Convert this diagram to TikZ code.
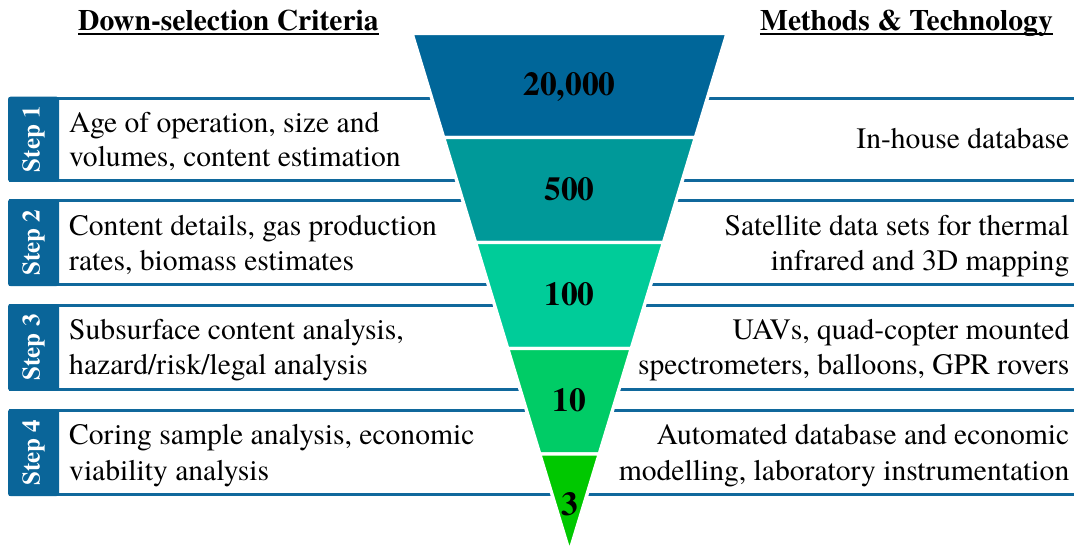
\documentclass[tikz,border=0pt]{standalone}
\usepackage{fontspec}
\setmainfont{TeX Gyre Termes}
\definecolor{tabblue}{RGB}{10,101,153}
\definecolor{lineblue}{RGB}{16,104,156}
\definecolor{fA}{RGB}{0,102,153}
\definecolor{fB}{RGB}{0,153,153}
\definecolor{fC}{RGB}{0,204,153}
\definecolor{fD}{RGB}{0,204,102}
\definecolor{fE}{RGB}{0,200,0}
\begin{document}
\begin{tikzpicture}[x=1pt,y=-1pt,
  txt/.style={inner sep=0pt,font=\fontsize{29.6}{34}\selectfont},
  hdr/.style={inner sep=0pt,font=\fontsize{29.6}{34}\selectfont\bfseries},
  num/.style={inner sep=0pt,font=\fontsize{33.5}{38}\selectfont\bfseries},
  steplbl/.style={inner sep=0pt,rotate=90,text=white,font=\fontsize{25}{28}\selectfont\bfseries},
  tabbox/.style={fill=tabblue,rounded corners=2.5pt},
  bandline/.style={draw=lineblue,line width=3pt},
  seg/.style={draw=white,line width=3.4pt,line join=round}]
\useasboundingbox (0,0) rectangle (1074,547);

% headers
\node[hdr,anchor=base west] (h1) at (78,30) {Down-selection Criteria};
\node[hdr,anchor=base east] (h2) at (1053,30) {Methods \& Technology};
\draw[line width=2pt] ([yshift=-4.3pt]h1.base west) -- ([yshift=-4.3pt]h1.base east);
\draw[line width=2pt] ([yshift=-4.3pt]h2.base west) -- ([yshift=-4.3pt]h2.base east);

% band lines
\foreach \t/\b in {96.7/181.7, 199.3/286, 304/390.7, 409.3/496}{
  \draw[bandline] (9,\t+1.5) -- (1074,\t+1.5);
  \draw[bandline] (9,\b-1.5) -- (1074,\b-1.5);
}

% tabs
\node[tabbox,inner sep=0pt,minimum width=51pt,minimum height=85pt] (t1) at (33.5,139.2) {};
\node[tabbox,inner sep=0pt,minimum width=51pt,minimum height=86.7pt] (t2) at (33.5,242.65) {};
\node[tabbox,inner sep=0pt,minimum width=51pt,minimum height=86.7pt] (t3) at (33.5,347.35) {};
\node[tabbox,inner sep=0pt,minimum width=51pt,minimum height=86.7pt] (t4) at (33.5,452.65) {};
\node[steplbl] (s1) at (t1.center) {Step 1};
\node[steplbl] (s2) at (t2.center) {Step 2};
\node[steplbl] (s3) at (t3.center) {Step 3};
\node[steplbl] (s4) at (t4.center) {Step 4};

% funnel
\filldraw[seg,fill=fA] (412.04,33.5) -- (727.0,33.5) -- (695.37,137.5) -- (443.63,137.5) -- cycle;
\filldraw[seg,fill=fB] (443.63,137.5) -- (695.37,137.5) -- (663.49,242.5) -- (475.51,242.5) -- cycle;
\filldraw[seg,fill=fC] (475.51,242.5) -- (663.49,242.5) -- (631.3,348.5) -- (507.7,348.5) -- cycle;
\filldraw[seg,fill=fD] (507.7,348.5) -- (631.3,348.5) -- (599.26,454) -- (539.74,454) -- cycle;
\filldraw[seg,fill=fE] (539.74,454) -- (599.26,454) -- (569.5,552) -- cycle;

\node[num,anchor=base] (n1) at (569.5,95) {20,000};
\node[num,anchor=base] (n2) at (569.5,200) {500};
\node[num,anchor=base] (n3) at (569.5,305) {100};
\node[num,anchor=base] (n4) at (569.5,411.5) {10};
\node[num,anchor=base] (n5) at (569.5,515) {3};

% left texts
\node[txt,anchor=base west] (l1a) at (69,132) {Age of operation, size and};
\node[txt,anchor=base west] (l1b) at (69,166.5) {volumes, content estimation};
\node[txt,anchor=base west] (l2a) at (69,235) {Content details, gas production};
\node[txt,anchor=base west] (l2b) at (69,270.5) {rates, biomass estimates};
\node[txt,anchor=base west] (l3a) at (69,339.5) {Subsurface content analysis,};
\node[txt,anchor=base west] (l3b) at (69,374.5) {hazard/risk/legal analysis};
\node[txt,anchor=base west] (l4a) at (69,444.5) {Coring sample analysis, economic};
\node[txt,anchor=base west] (l4b) at (69,480) {viability analysis};

% right texts
\node[txt,anchor=base east] (r1) at (1069.5,148) {In-house database};
\node[txt,anchor=base east] (r2a) at (1069.5,235) {Satellite data sets for thermal};
\node[txt,anchor=base east] (r2b) at (1069.5,270.5) {infrared and 3D mapping};
\node[txt,anchor=base east] (r3a) at (1069.5,339.5) {UAVs, quad-copter mounted};
\node[txt,anchor=base east] (r3b) at (1069.5,374.5) {spectrometers, balloons, GPR rovers};
\node[txt,anchor=base east] (r4a) at (1069.5,444.5) {Automated database and economic};
\node[txt,anchor=base east] (r4b) at (1069.5,480) {modelling, laboratory instrumentation};
\end{tikzpicture}
\end{document}
